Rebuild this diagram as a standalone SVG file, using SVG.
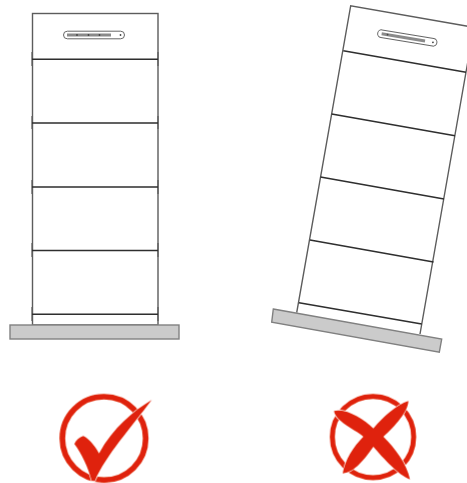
<svg xmlns="http://www.w3.org/2000/svg" width="467" height="483" viewBox="0 0 467 483">
<defs><filter id="soft" x="-5%" y="-5%" width="110%" height="110%"><feGaussianBlur stdDeviation=".45"/></filter></defs>
<style>
.side{fill:none;stroke:#5c5c5c;stroke-width:1.4}
.sep{fill:none;stroke:#2e2e2e;stroke-width:1.5}
.tab{fill:none;stroke:#888;stroke-width:1.6}
.plate{fill:#cbcbcb;stroke:#808080;stroke-width:1.4}
.slot{fill:#fff;stroke:#666;stroke-width:1}
.bar{stroke:#8a8a8a;stroke-width:3;fill:none}
.dot{fill:#444}
.ring{fill:none;stroke:#df2208}
.mark{fill:#df2208;stroke:#fff;stroke-width:4;paint-order:stroke}
</style>
<rect width="467" height="483" fill="#fff"/>
<g filter="url(#soft)">
<g id="tower-upright">
<path class="tab" d="M32 52V66M158 52V66M32 116V129M158 116V129M32 180V194M158 180V194M32 243V257M158 243V257M32 307V321M158 307V321"/>
<rect class="side" x="32.500" y="13.500" width="125.500" height="311.500"/>
<path class="sep" d="M32 59.300H158M32 123H158M32 187H158M32 250.500H158M32 314.300H158"/>
<rect class="slot" x="63.500" y="31.200" width="61" height="7.600" rx="3.800"/>
<path class="bar" d="M67 35H111"/>
<circle class="dot" cx="77" cy="35" r=".9"/><circle class="dot" cx="88.500" cy="35" r=".9"/><circle class="dot" cx="99.500" cy="35" r=".9"/><circle class="dot" cx="120.500" cy="35" r=".9"/>
</g>
<g id="plate-upright"><rect class="plate" x="10" y="325" width="169" height="14"/></g>
<g id="tower-tilted">
<path class="side" d="M296.700 312.700L350.700 5.700L472 27M420 334L472 38"/>
<path class="sep" d="M343.300 50.700L466 72.300M331.700 114L455 135.700M320.500 177L444 199M310 240L433.500 262M299 302.700L421.700 324"/>
<g transform="translate(407.300 38) rotate(9.500)">
<rect class="slot" x="-30" y="-3.800" width="60" height="7.600" rx="3.800"/>
<path class="bar" d="M-26 0H18"/>
<circle class="dot" cx="-20" cy="0" r=".9"/><circle class="dot" cx="26" cy="0" r=".9"/>
</g>
</g>
<g id="plate-tilted"><path class="plate" d="M273.300 309L441.700 339L439.300 352.300L271.700 322.300Z"/></g>
<g id="check-icon" transform="translate(50 385) scale(.33333)">
<circle class="ring" cx="162" cy="160" r="125" stroke-width="17"/>
<path class="mark" d="M305 45C250 78 190 128 147 205C135 185 122 165 100 153C88 157 78 165 73 177C95 205 115 250 125 287L135 287C165 215 245 125 305 45Z"/>
</g>
<g id="cross-icon" transform="translate(315 385) scale(.33333)">
<circle class="ring" cx="174" cy="156" r="122" stroke-width="15"/>
<path class="mark" d="M57 78C90 68 145 100 175 130C205 95 245 60 280 48C280 78 240 125 205 155C240 190 275 235 285 283C250 270 205 220 175 185C150 220 120 262 83 265C90 225 115 185 145 155C115 130 62 110 57 78Z"/>
</g>
</g>
</svg>
